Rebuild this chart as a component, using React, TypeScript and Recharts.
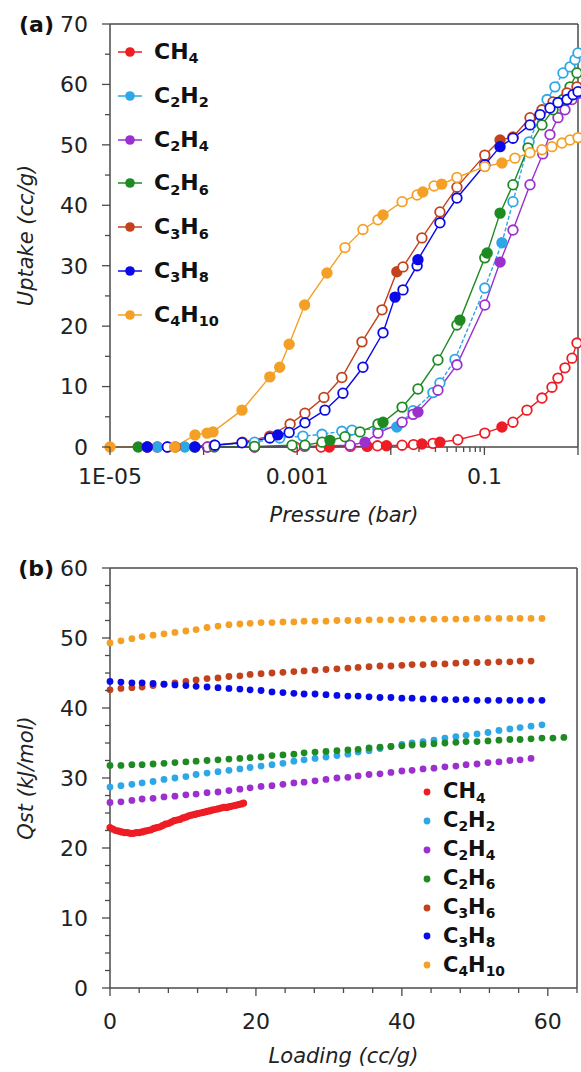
import {
  Label,
  Legend,
  Line,
  LineChart,
  ReferenceLine,
  Scatter,
  ScatterChart,
  XAxis,
  YAxis,
} from "recharts";

type Pt = [number, number];

const GASES = ["CH4", "C2H2", "C2H4", "C2H6", "C3H6", "C3H8", "C4H10"];

const COLORS: Record<string, string> = {
  CH4: "#ee1c24",
  C2H2: "#2ea7e6",
  C2H4: "#9b30cf",
  C2H6: "#1f8a22",
  C3H6: "#c2421d",
  C3H8: "#0a0ae8",
  C4H10: "#f4a026",
};

// (a) isotherms: [pressure (bar), uptake (cc/g)], filled = adsorption, open = desorption
const CH4_FILLED: Pt[] = [[3.2e-5, 0], [2.2e-3, 0], [5.6e-3, 0.1], [9e-3, 0.2], [0.0215, 0.5], [0.0335, 0.8], [0.154, 3.3]];
const CH4_OPEN: Pt[] = [
  [1.1e-4, 0], [3.5e-4, 0], [9.5e-4, 0], [1.8e-3, 0], [3.7e-3, 0.1], [7.2e-3, 0.2], [0.0132, 0.3], [0.0175, 0.4],
  [0.0282, 0.6], [0.052, 1.2], [0.101, 2.3], [0.202, 4.1], [0.285, 6.1], [0.412, 8.1], [0.527, 9.9], [0.611, 11.4],
  [0.726, 13.1], [0.863, 14.7], [0.975, 17.2],
];

const C2H2_FILLED: Pt[] = [[3.2e-5, 0], [6.3e-5, 0], [0.0116, 3.3], [0.154, 33.8]];
const C2H2_OPEN: Pt[] = [
  [1.3e-4, 0.3], [3.5e-4, 0.8], [6.5e-4, 1.5], [1.15e-3, 1.8], [1.84e-3, 2.1], [3.0e-3, 2.6], [3.85e-3, 2.8],
  [7.3e-3, 3.0], [0.0173, 6.0], [0.0282, 9.0], [0.0335, 10.6], [0.0485, 14.5], [0.101, 26.3], [0.202, 40.6],
  [0.3, 50.5], [0.467, 57.5], [0.567, 59.6], [0.691, 61.9], [0.822, 62.9], [0.929, 64.1], [1.0, 65.2],
];

const C2H4_FILLED: Pt[] = [[2.5e-5, 0], [4.1e-5, 0], [5.3e-3, 0.8], [0.0195, 5.8], [0.147, 30.6]];
const C2H4_OPEN: Pt[] = [
  [1.1e-4, 0], [3.5e-4, 0], [1.2e-3, 0.1], [3.67e-3, 0.3], [7.3e-3, 2.3], [0.0132, 4.1], [0.0173, 5.4],
  [0.0319, 9.4], [0.0509, 13.6], [0.101, 23.5], [0.202, 35.9], [0.307, 43.4], [0.42, 48.5], [0.502, 51.7],
  [0.611, 54.5], [0.726, 55.8], [0.863, 57.5], [1.0, 58.5],
];

const C2H6_FILLED: Pt[] = [[2.0e-5, 0], [8e-5, 0], [2.24e-3, 1.1], [8.26e-3, 4.1], [0.0548, 21.0], [0.107, 32.1], [0.147, 38.7]];
const C2H6_OPEN: Pt[] = [
  [1.3e-4, 0], [3.5e-4, 0.1], [8.8e-4, 0.3], [1.21e-3, 0.3], [1.84e-3, 0.8], [3.24e-3, 1.7], [4.69e-3, 2.5],
  [7.3e-3, 3.8], [0.0132, 6.6], [0.0195, 9.6], [0.0319, 14.4], [0.0509, 20.2], [0.101, 31.3], [0.202, 43.4],
  [0.292, 49.5], [0.412, 53.3], [0.541, 55.8], [0.691, 57.5], [0.822, 59.6], [0.975, 61.9],
];

const C3H6_FILLED: Pt[] = [[2.5e-5, 0], [1.3e-4, 0.3], [5.1e-4, 1.8], [0.0116, 29.0], [0.147, 50.8]];
const C3H6_OPEN: Pt[] = [
  [5e-5, 0], [2.6e-4, 0.8], [8.4e-4, 3.8], [1.21e-3, 5.6], [1.93e-3, 8.2], [3.0e-3, 11.5], [4.92e-3, 17.4],
  [8.06e-3, 22.7], [0.0135, 29.8], [0.0215, 34.6], [0.0335, 38.9], [0.0509, 43.0], [0.101, 48.3], [0.202, 51.3],
  [0.307, 54.5], [0.412, 55.8], [0.541, 57.1], [0.763, 58.6], [0.975, 59.6],
];

const C3H8_FILLED: Pt[] = [[2.5e-5, 0], [8.1e-5, 0], [6.2e-4, 2.0], [0.0111, 24.8], [0.0195, 31.0], [0.147, 49.7]];
const C3H8_OPEN: Pt[] = [
  [4.1e-5, 0], [1.32e-4, 0.3], [2.57e-4, 0.7], [5.1e-4, 1.5], [8.2e-4, 2.4], [1.21e-3, 4.0], [1.98e-3, 6.1],
  [3.08e-3, 8.9], [5.04e-3, 13.2], [8.26e-3, 18.9], [0.0135, 26.0], [0.0191, 30.0], [0.0335, 37.1], [0.0509, 41.2],
  [0.101, 46.7], [0.202, 51.1], [0.307, 53.3], [0.393, 55.0], [0.502, 56.1], [0.611, 57.0], [0.763, 57.5],
  [0.885, 58.3], [1.0, 58.8],
];

const C4H10_FILLED: Pt[] = [
  [1e-5, 0], [4.9e-5, 0], [8.1e-5, 2.0], [1.09e-4, 2.3], [1.26e-4, 2.5], [2.57e-4, 6.1], [5.1e-4, 11.6],
  [6.5e-4, 13.2], [8.2e-4, 17.0], [1.2e-3, 23.5], [2.08e-3, 28.8], [8.26e-3, 38.4], [0.022, 42.2], [0.035, 43.5],
  [0.154, 47.0],
];
const C4H10_OPEN: Pt[] = [
  [3.24e-3, 33.0], [5.04e-3, 36.0], [7.3e-3, 37.6], [0.0132, 40.6], [0.0191, 41.7], [0.029, 43.2], [0.0509, 44.6],
  [0.101, 46.4], [0.212, 47.8], [0.307, 48.7], [0.412, 49.2], [0.527, 49.7], [0.675, 50.3], [0.822, 50.8], [1.0, 51.2],
];

const P_TICKS = [1e-5, 1e-4, 1e-3, 0.01, 0.02, 0.03, 0.04, 0.05, 0.06, 0.07, 0.08, 0.09, 0.1, 1];
const P_LABELS: Pt[] = [[1e-5, 0], [1e-3, 0], [0.1, 0]];
const P_LABEL_TEXT = ["1E-05", "0.001", "0.1"];
const UPTAKE_TICKS = [0, 5, 10, 15, 20, 25, 30, 35, 40, 45, 50, 55, 60, 65, 70];

// (b) isosteric heat: loading (cc/g) vs Qst (kJ/mol)
const LOADING = [
  0, 1.5, 3, 4.4, 5.9, 7.4, 8.9, 10.4, 11.8, 13.3, 14.8, 16.3, 17.8, 19.2, 20.7, 22.2, 23.7, 25.2, 26.6, 28.1,
  29.6, 31.1, 32.6, 34, 35.5, 37, 38.5, 40, 41.4, 42.9, 44.4, 45.9, 47.4, 48.8, 50.3, 51.8, 53.3, 54.8, 56.2,
  57.7, 59.2, 60.7, 62.2,
];
const CH4_LOADING = [
  0, 0.4, 0.8, 1.2, 1.6, 2, 2.4, 2.8, 3.2, 3.6, 4, 4.4, 4.8, 5.2, 5.6, 6, 6.4, 6.8, 7.2, 7.6, 8, 8.4, 8.8, 9.2,
  9.6, 10, 10.4, 10.8, 11.2, 11.6, 12, 12.4, 12.8, 13.2, 13.6, 14, 14.4, 14.8, 15.2, 15.6, 16, 16.4, 16.8, 17.2,
  17.6, 18, 18.3,
];
const QST_CH4 = [
  22.9, 22.7, 22.5, 22.4, 22.3, 22.2, 22.2, 22.1, 22.1, 22.2, 22.2, 22.3, 22.4, 22.5, 22.6, 22.8, 22.9, 23.0,
  23.2, 23.4, 23.5, 23.7, 23.9, 24.0, 24.1, 24.3, 24.4, 24.6, 24.7, 24.8, 24.9, 25.0, 25.1, 25.2, 25.3, 25.4,
  25.5, 25.6, 25.7, 25.8, 25.8, 25.9, 26.0, 26.1, 26.2, 26.3, 26.4,
];
const QST_C2H2 = [
  28.7, 28.9, 29.1, 29.3, 29.5, 29.8, 30.0, 30.2, 30.5, 30.7, 30.9, 31.1, 31.3, 31.5, 31.7, 31.9, 32.1, 32.4,
  32.6, 32.8, 33.0, 33.2, 33.4, 33.7, 33.9, 34.2, 34.5, 34.8, 35.0, 35.2, 35.4, 35.7, 35.9, 36.1, 36.3, 36.5,
  36.8, 37.0, 37.2, 37.4, 37.6,
];
const QST_C2H4 = [
  26.5, 26.6, 26.8, 27.0, 27.1, 27.3, 27.4, 27.6, 27.7, 27.9, 28.0, 28.2, 28.4, 28.6, 28.8, 28.9, 29.1, 29.3,
  29.4, 29.6, 29.8, 30.0, 30.1, 30.3, 30.5, 30.6, 30.8, 31.0, 31.1, 31.3, 31.4, 31.6, 31.7, 31.9, 32.0, 32.2,
  32.3, 32.5, 32.6, 32.8,
];
const QST_C2H6 = [
  31.8, 31.8, 31.9, 31.9, 32.0, 32.1, 32.2, 32.3, 32.4, 32.5, 32.6, 32.7, 32.8, 32.9, 33.0, 33.2, 33.3, 33.4,
  33.6, 33.7, 33.8, 33.9, 34.0, 34.1, 34.3, 34.4, 34.5, 34.6, 34.7, 34.8, 34.9, 35.0, 35.1, 35.2, 35.2, 35.3,
  35.4, 35.5, 35.5, 35.6, 35.7, 35.7, 35.8,
];
const QST_C3H6 = [
  42.6, 42.8, 42.9, 43.0, 43.2, 43.4, 43.6, 43.8, 44.0, 44.2, 44.3, 44.5, 44.6, 44.8, 44.9, 45.0, 45.1, 45.2,
  45.3, 45.4, 45.5, 45.6, 45.7, 45.8, 45.9, 46.0, 46.0, 46.1, 46.2, 46.2, 46.3, 46.3, 46.4, 46.5, 46.5, 46.5,
  46.6, 46.6, 46.7, 46.7,
];
const QST_C3H8 = [
  43.8, 43.7, 43.6, 43.6, 43.5, 43.4, 43.3, 43.2, 43.1, 43.0, 42.9, 42.8, 42.7, 42.6, 42.5, 42.3, 42.2, 42.1,
  42.0, 42.0, 41.9, 41.8, 41.7, 41.7, 41.6, 41.5, 41.5, 41.4, 41.4, 41.3, 41.3, 41.2, 41.2, 41.2, 41.1, 41.1,
  41.1, 41.1, 41.1, 41.1, 41.1,
];
const QST_C4H10 = [
  49.3, 49.6, 49.9, 50.2, 50.4, 50.6, 50.8, 51.0, 51.2, 51.5, 51.7, 51.9, 52.0, 52.1, 52.2, 52.2, 52.3, 52.3,
  52.4, 52.4, 52.4, 52.5, 52.5, 52.5, 52.6, 52.6, 52.6, 52.6, 52.7, 52.7, 52.7, 52.7, 52.7, 52.7, 52.8, 52.8,
  52.8, 52.8, 52.8, 52.8, 52.8,
];
const LOADING_TICKS = [0, 4, 8, 12, 16, 20, 24, 28, 32, 36, 40, 44, 48, 52, 56, 60, 64];
const QST_TICKS = [0, 2.5, 5, 7.5, 10, 12.5, 15, 17.5, 20, 22.5, 25, 27.5, 30, 32.5, 35, 37.5, 40, 42.5, 45, 47.5, 50, 52.5, 55, 57.5, 60];

const FONT = '"DejaVu Sans", Verdana, sans-serif';
const AXIS = "#4a4a4a";
const INK = "#222";

const isotherm = (filled: Pt[], open: Pt[]) =>
  [
    ...filled.map(([p, q]) => ({ p, q, filled: true })),
    ...open.map(([p, q]) => ({ p, q, filled: false })),
  ].sort((a, b) => a.p - b.p);

const ISOTHERMS: Record<string, ReturnType<typeof isotherm>> = {
  CH4: isotherm(CH4_FILLED, CH4_OPEN),
  C2H2: isotherm(C2H2_FILLED, C2H2_OPEN),
  C2H4: isotherm(C2H4_FILLED, C2H4_OPEN),
  C2H6: isotherm(C2H6_FILLED, C2H6_OPEN),
  C3H6: isotherm(C3H6_FILLED, C3H6_OPEN),
  C3H8: isotherm(C3H8_FILLED, C3H8_OPEN),
  C4H10: isotherm(C4H10_FILLED, C4H10_OPEN),
};

const heat = (xs: number[], ys: number[]) => ys.map((qst, i) => ({ loading: xs[i], qst }));

const HEATS: Record<string, { loading: number; qst: number }[]> = {
  CH4: heat(CH4_LOADING, QST_CH4),
  C2H2: heat(LOADING, QST_C2H2),
  C2H4: heat(LOADING, QST_C2H4),
  C2H6: heat(LOADING, QST_C2H6),
  C3H6: heat(LOADING, QST_C3H6),
  C3H8: heat(LOADING, QST_C3H8),
  C4H10: heat(LOADING, QST_C4H10),
};

function Formula({ name }: { name: string }) {
  return (
    <>
      {name.split(/(\d+)/).filter(Boolean).map((part, i) =>
        /\d/.test(part) ? (
          <span key={i} style={{ fontSize: "0.66em", position: "relative", top: "0.3em" }}>{part}</span>
        ) : (
          <span key={i}>{part}</span>
        )
      )}
    </>
  );
}

function IsothermLegend() {
  return (
    <div style={{ fontFamily: FONT, fontWeight: 700, fontSize: 22, color: "#111" }}>
      {GASES.map((g) => (
        <div key={g} style={{ height: 43.8, display: "flex", alignItems: "center" }}>
          <svg width={30} height={14}>
            <line x1={2} x2={26} y1={7} y2={7} stroke={COLORS[g]} strokeWidth={1.5} />
            <circle cx={14} cy={7} r={4.8} fill={COLORS[g]} />
          </svg>
          <span style={{ marginLeft: 8, lineHeight: 1 }}>
            <Formula name={g} />
          </span>
        </div>
      ))}
    </div>
  );
}

function HeatLegend() {
  return (
    <div style={{ fontFamily: FONT, fontWeight: 700, fontSize: 21, color: "#111" }}>
      {GASES.map((g) => (
        <div key={g} style={{ height: 28.9, display: "flex", alignItems: "center" }}>
          <svg width={14} height={10}>
            <circle cx={7} cy={5} r={3.4} fill={COLORS[g]} />
          </svg>
          <span style={{ marginLeft: 9, lineHeight: 1 }}>
            <Formula name={g} />
          </span>
        </div>
      ))}
    </div>
  );
}

const leftTick = (step: number) => (props: any) => {
  const { x, y, payload } = props;
  const major = Math.abs(payload.value % step) < 1e-9;
  return (
    <g>
      <line x1={x} x2={x - (major ? 8 : 5)} y1={y} y2={y} stroke={AXIS} strokeWidth={1.3} />
      {major && (
        <text x={x - 22} y={y} dy="0.36em" textAnchor="end" fontSize={22} fontFamily={FONT} fill={INK}>
          {payload.value}
        </text>
      )}
    </g>
  );
};

const pressureTick = (props: any) => {
  const { x, y, payload } = props;
  const v = payload.value as number;
  const decade = Math.abs(Math.log10(v) - Math.round(Math.log10(v))) < 1e-6;
  const idx = P_LABELS.findIndex(([t]) => Math.abs(Math.log10(t) - Math.log10(v)) < 1e-6);
  return (
    <g>
      <line x1={x} x2={x} y1={y} y2={y + (decade ? 8 : 5)} stroke={AXIS} strokeWidth={1.3} />
      {idx >= 0 && (
        <text x={x} y={y + 21} dy="0.73em" textAnchor="middle" fontSize={22} fontFamily={FONT} fill={INK}>
          {P_LABEL_TEXT[idx]}
        </text>
      )}
    </g>
  );
};

const loadingTick = (props: any) => {
  const { x, y, payload } = props;
  const major = payload.value % 20 === 0;
  return (
    <g>
      <line x1={x} x2={x} y1={y} y2={y + (major ? 8 : 5)} stroke={AXIS} strokeWidth={1.3} />
      {major && (
        <text x={x} y={y + 25} dy="0.73em" textAnchor="middle" fontSize={22} fontFamily={FONT} fill={INK}>
          {payload.value}
        </text>
      )}
    </g>
  );
};

const yTitle = (text: string) => (props: any) => {
  const vb = props.viewBox ?? { x: 0, y: 0, width: 0, height: 0 };
  return (
    <text
      transform={`translate(${vb.x + 33},${vb.y + vb.height / 2}) rotate(-90)`}
      textAnchor="middle"
      fontSize={21}
      fontStyle="italic"
      fontFamily={FONT}
      fill={INK}
    >
      {text}
    </text>
  );
};

const xTitle = (text: string) => (props: any) => {
  const vb = props.viewBox ?? { x: 0, y: 0, width: 0, height: 0 };
  return (
    <text x={vb.x + vb.width / 2} y={vb.y + 75} textAnchor="middle" fontSize={21} fontStyle="italic" fontFamily={FONT} fill={INK}>
      {text}
    </text>
  );
};

const panelTag = (text: string) => (props: any) => {
  const vb = props.viewBox ?? { x: 0, y: 0, width: 0, height: 0 };
  return (
    <text x={vb.x + 54} y={vb.y + 8} textAnchor="end" fontSize={22} fontWeight={700} fontFamily={FONT} fill="#111">
      {text}
    </text>
  );
};

const markerDot = (color: string) => (props: any) => {
  const { cx, cy, payload, index } = props;
  if (cx == null || cy == null) return <g key={index} />;
  return (
    <circle
      key={index}
      cx={cx}
      cy={cy}
      r={4.8}
      fill={payload.filled ? color : "#fff"}
      stroke={color}
      strokeWidth={1.8}
    />
  );
};

function IsothermChart() {
  return (
    <LineChart width={581} height={540} margin={{ top: 24, right: 3, bottom: 0, left: 0 }}>
      <XAxis
        dataKey="p"
        type="number"
        scale="log"
        domain={[1e-5, 1]}
        ticks={P_TICKS}
        interval={0}
        height={93}
        tickSize={0}
        tickMargin={0}
        tickLine={false}
        axisLine={{ stroke: AXIS, strokeWidth: 1.5 }}
        tick={pressureTick}
      >
        <Label content={xTitle("Pressure (bar)")} />
      </XAxis>
      <YAxis
        type="number"
        domain={[0, 70]}
        ticks={UPTAKE_TICKS}
        interval={0}
        width={110}
        tickSize={0}
        tickMargin={0}
        tickLine={false}
        axisLine={{ stroke: AXIS, strokeWidth: 1.5 }}
        tick={leftTick(10)}
      >
        <Label content={yTitle("Uptake (cc/g)")} />
        <Label content={panelTag("(a)")} />
      </YAxis>
      <ReferenceLine y={70} stroke={AXIS} strokeWidth={1.5} />
      <ReferenceLine x={1} stroke={AXIS} strokeWidth={1.5} />
      {GASES.map((g) => (
        <Line
          key={g}
          data={ISOTHERMS[g]}
          dataKey="q"
          type="linear"
          stroke={COLORS[g]}
          strokeWidth={1.4}
          strokeDasharray={g === "C2H2" ? "4 2" : undefined}
          dot={markerDot(COLORS[g])}
          activeDot={false}
          isAnimationActive={false}
        />
      ))}
      <Legend
        layout="vertical"
        align="center"
        verticalAlign="middle"
        wrapperStyle={{ left: 116, top: 30.1, width: 160 }}
        content={() => <IsothermLegend />}
      />
    </LineChart>
  );
}

function HeatChart() {
  return (
    <ScatterChart width={581} height={532} margin={{ top: 28, right: 4, bottom: 0, left: 0 }}>
      <XAxis
        dataKey="loading"
        type="number"
        domain={[0, 64]}
        ticks={LOADING_TICKS}
        interval={0}
        height={84}
        tickSize={0}
        tickMargin={0}
        tickLine={false}
        axisLine={{ stroke: AXIS, strokeWidth: 1.5 }}
        tick={loadingTick}
      >
        <Label content={xTitle("Loading (cc/g)")} />
      </XAxis>
      <YAxis
        dataKey="qst"
        type="number"
        domain={[0, 60]}
        ticks={QST_TICKS}
        interval={0}
        width={110}
        tickSize={0}
        tickMargin={0}
        tickLine={false}
        axisLine={{ stroke: AXIS, strokeWidth: 1.5 }}
        tick={leftTick(10)}
      >
        <Label content={yTitle("Qst (kJ/mol)")} />
        <Label content={panelTag("(b)")} />
      </YAxis>
      <ReferenceLine y={60} stroke={AXIS} strokeWidth={1.5} />
      <ReferenceLine x={64} stroke={AXIS} strokeWidth={1.5} />
      {GASES.map((g) => (
        <Scatter
          key={g}
          data={HEATS[g]}
          fill={COLORS[g]}
          shape={(p: any) => <circle cx={p.cx} cy={p.cy} r={g === "CH4" ? 3.6 : 3.4} fill={COLORS[g]} />}
          isAnimationActive={false}
        />
      ))}
      <Legend
        layout="vertical"
        align="center"
        verticalAlign="middle"
        wrapperStyle={{ left: 420, top: 237.5, width: 140 }}
        content={() => <HeatLegend />}
      />
    </ScatterChart>
  );
}

export default function App() {
  return (
    <div style={{ position: "absolute", left: 0, top: 0, width: 581, height: 1072, background: "#fff" }}>
      <div style={{ position: "absolute", left: 0, top: 0 }}>
        <IsothermChart />
      </div>
      <div style={{ position: "absolute", left: 0, top: 540 }}>
        <HeatChart />
      </div>
    </div>
  );
}
